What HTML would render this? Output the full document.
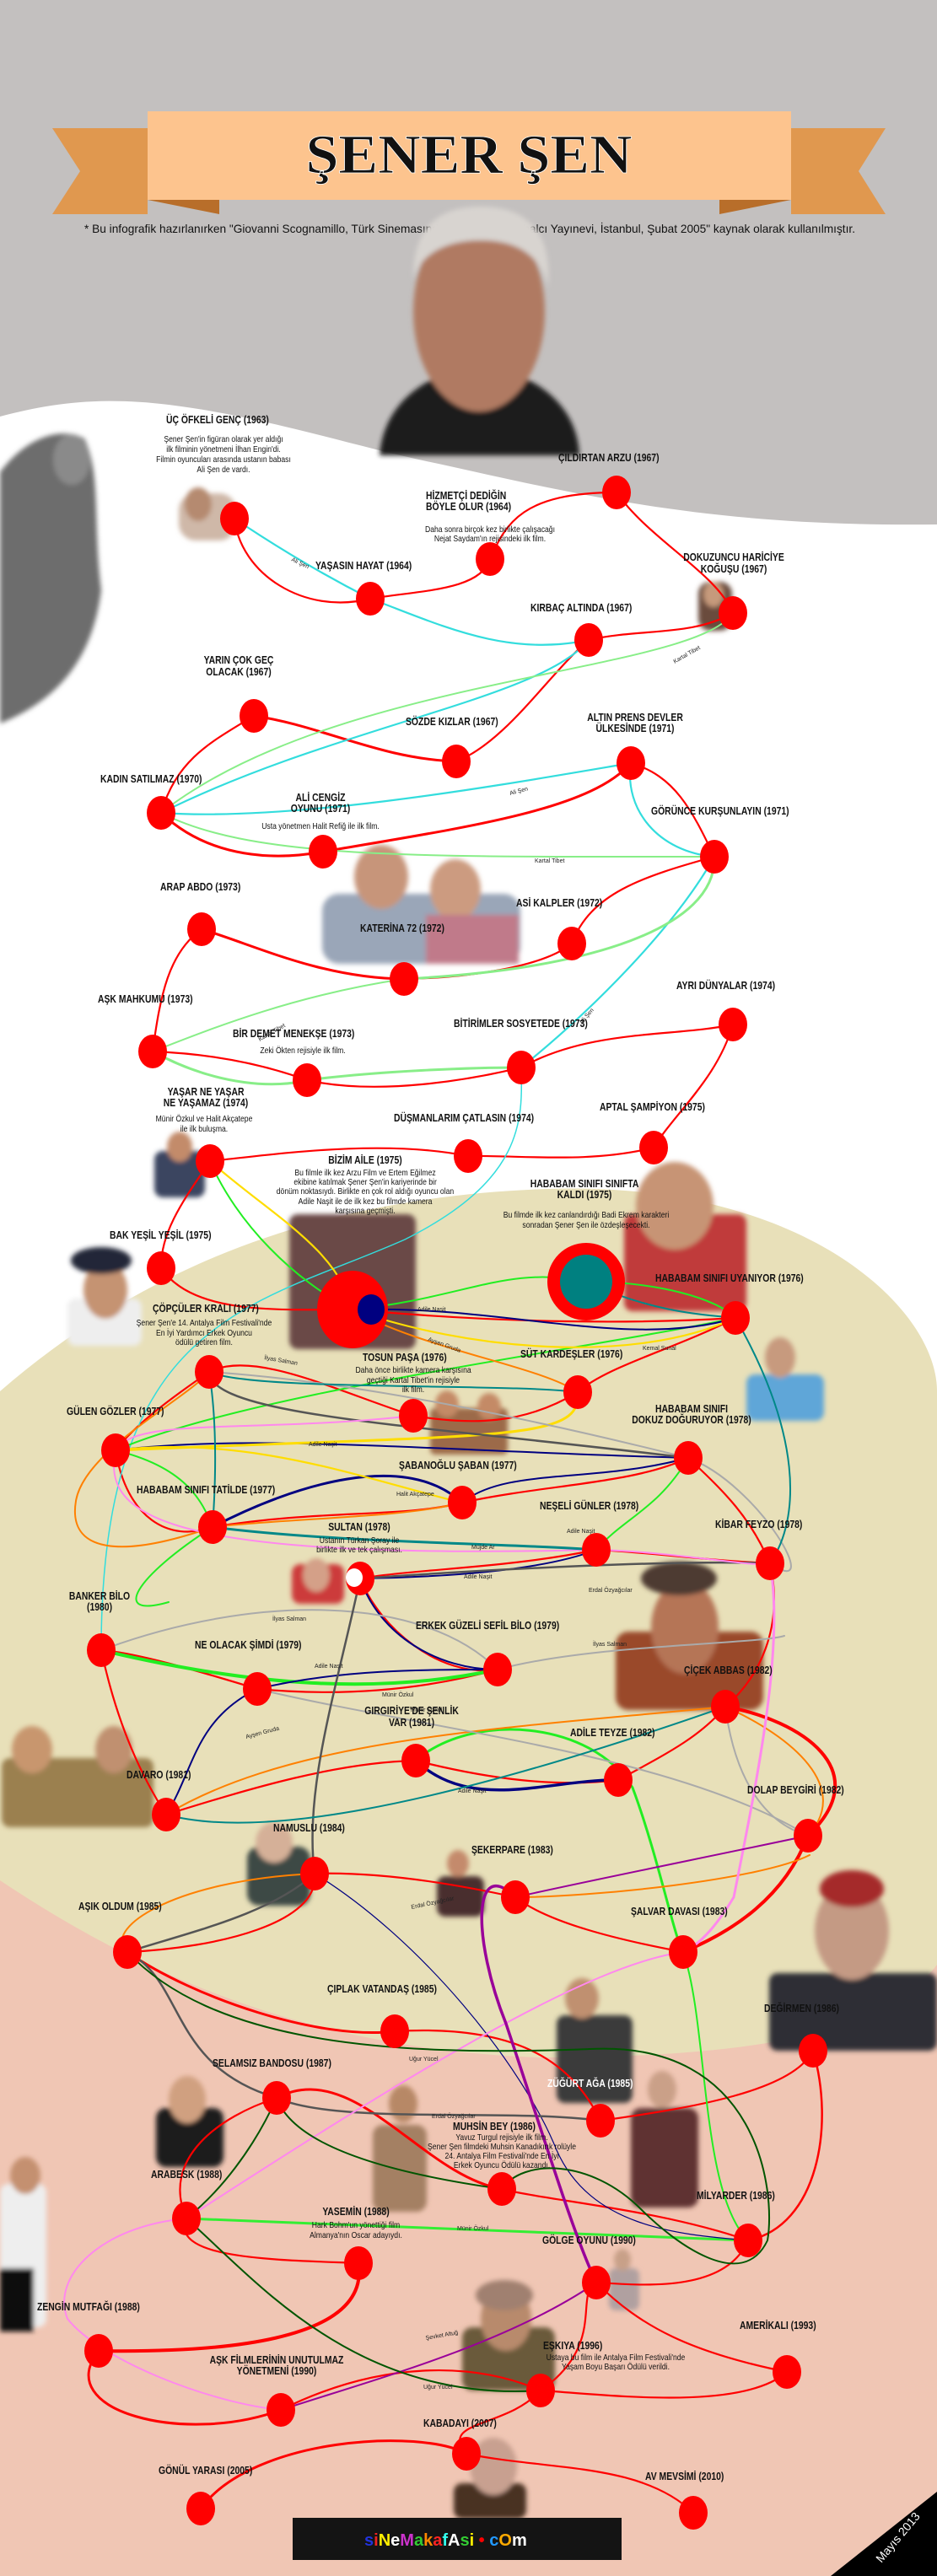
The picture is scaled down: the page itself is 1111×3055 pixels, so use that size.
<!DOCTYPE html>
<html><head><meta charset="utf-8">
<style>
html,body{margin:0;padding:0;}
body{width:1111px;height:3055px;overflow:hidden;background:#fff;}
svg{display:block;}
.l text{font-family:"Liberation Sans",sans-serif;font-weight:bold;font-size:13px;fill:#111;transform-box:fill-box;transform-origin:0% 50%;transform:scaleX(0.8);}
.l text[text-anchor="middle"]{transform-origin:50% 50%;}
.d text{font-family:"Liberation Sans",sans-serif;font-size:10.5px;fill:#111;transform-box:fill-box;transform-origin:50% 50%;transform:scaleX(0.82);}
.s text{font-family:"Liberation Sans",sans-serif;font-size:7px;fill:#222;}
.r{fill:none;stroke:#ff0000;stroke-width:2.2;}
.c{fill:none;stroke-linecap:round;}
</style></head><body>
<svg width="1111" height="3055" viewBox="0 0 1111 3055" xmlns="http://www.w3.org/2000/svg">
<defs>
<filter id="bl" x="-20%" y="-20%" width="140%" height="140%"><feGaussianBlur stdDeviation="3"/></filter>
</defs>
<rect x="0" y="0" width="1111" height="3055" fill="#ffffff"/>
<path d="M0,0 H1111 V622 C850,625 700,590 520,550 C420,530 320,495 200,480 C120,470 60,478 0,494 Z" fill="#c3c0bf"/>
<rect x="0" y="2090" width="1111" height="965" fill="#f0c6b4"/>
<path d="M0,1650 C150,1520 350,1420 650,1410 C950,1400 1111,1550 1111,1650 L1111,2330 C1050,2410 900,2440 640,2440 C350,2430 150,2330 0,2230 Z" fill="#e8e0b9"/>

<polygon points="62,152 175,152 175,254 62,254 95,203" fill="#e0984f"/>
<polygon points="1050,152 938,152 938,254 1050,254 1018,203" fill="#e0984f"/>
<polygon points="175,237 260,237 260,254" fill="#b86e2a"/>
<polygon points="938,237 853,237 853,254" fill="#b86e2a"/>
<rect x="175" y="132" width="763" height="105" fill="#fdc48e"/>
<text x="556" y="205" text-anchor="middle" textLength="387" lengthAdjust="spacingAndGlyphs" style="font-family:'Liberation Serif',serif;font-weight:bold;font-size:66px;fill:#111;stroke:#fff;stroke-width:0.8">ŞENER ŞEN</text>
<text x="100" y="276" textLength="914" lengthAdjust="spacingAndGlyphs" style="font-family:'Liberation Sans',sans-serif;font-size:14px;fill:#111">* Bu infografik hazırlanırken "Giovanni Scognamillo, Türk Sinemasında Şener Şen, Kabalcı Yayınevi, İstanbul, Şubat 2005" kaynak olarak kullanılmıştır.</text>

<g filter="url(#bl)">
<path d="M450,540 C455,480 500,450 540,440 L600,440 C650,455 685,490 687,540 Z" fill="#1c1a1a"/>
<ellipse cx="568" cy="370" rx="78" ry="118" fill="#b07a62"/>
<path d="M490,330 C490,260 530,245 570,245 C620,245 655,270 650,340 C640,300 610,285 570,285 C530,285 500,300 490,330Z" fill="#d8d4d0"/>
</g>

<g filter="url(#bl)">
<path d="M0,560 C30,520 70,505 100,520 C120,560 110,620 120,700 C110,780 70,830 0,858 Z" fill="#6d6d6d"/>
<ellipse cx="85" cy="545" rx="22" ry="30" fill="#8a8a8a"/>
<rect x="212" y="585" width="68" height="56" rx="20" fill="#cfb8a8"/>
<ellipse cx="235" cy="598" rx="16" ry="20" fill="#b58a70"/>
<rect x="828" y="690" width="40" height="58" rx="14" fill="#6a4b3c"/>
<ellipse cx="846" cy="705" rx="12" ry="15" fill="#c69a7c"/>
<rect x="382" y="1060" width="235" height="83" rx="20" fill="#9aa6b8"/>
<ellipse cx="452" cy="1040" rx="32" ry="38" fill="#c7957a"/>
<ellipse cx="540" cy="1055" rx="30" ry="36" fill="#cc9b80"/>
<rect x="505" y="1085" width="110" height="58" fill="#c07a8a"/>
<rect x="183" y="1365" width="60" height="55" rx="10" fill="#3a4560"/>
<ellipse cx="213" cy="1360" rx="15" ry="18" fill="#c38b6a"/>
<rect x="80" y="1540" width="88" height="56" rx="10" fill="#eeeeee"/>
<ellipse cx="125" cy="1530" rx="26" ry="34" fill="#c59372"/>
<ellipse cx="120" cy="1495" rx="36" ry="16" fill="#202538"/>
<rect x="343" y="1440" width="150" height="160" rx="10" fill="#6b4a46"/>
<rect x="740" y="1440" width="145" height="115" rx="10" fill="#c03a3a"/>
<ellipse cx="800" cy="1430" rx="46" ry="52" fill="#c79474"/>
<rect x="885" y="1630" width="92" height="55" rx="10" fill="#5fa6d8"/>
<ellipse cx="925" cy="1610" rx="18" ry="24" fill="#c79a7e"/>
<rect x="510" y="1670" width="92" height="55" rx="6" fill="#9c6a4a"/>
<ellipse cx="530" cy="1665" rx="14" ry="16" fill="#c48a66"/>
<ellipse cx="580" cy="1668" rx="14" ry="16" fill="#c48a66"/>
<rect x="346" y="1855" width="62" height="47" rx="10" fill="#cc3b3b"/>
<ellipse cx="375" cy="1868" rx="16" ry="20" fill="#d4a088"/>
<rect x="730" y="1935" width="175" height="93" rx="15" fill="#9a4a2a"/>
<ellipse cx="812" cy="1930" rx="40" ry="55" fill="#b57456"/>
<ellipse cx="805" cy="1872" rx="45" ry="20" fill="#4d3a30"/>
<rect x="2" y="2085" width="180" height="82" rx="10" fill="#9b8050"/>
<ellipse cx="38" cy="2075" rx="24" ry="28" fill="#c8966e"/>
<ellipse cx="135" cy="2075" rx="22" ry="28" fill="#c09070"/>
<rect x="293" y="2190" width="75" height="70" rx="14" fill="#3c4a44"/>
<ellipse cx="325" cy="2185" rx="22" ry="24" fill="#d5b098"/>
<rect x="518" y="2225" width="56" height="48" rx="10" fill="#4a2f2f"/>
<ellipse cx="543" cy="2210" rx="13" ry="16" fill="#c48a6c"/>
<rect x="912" y="2340" width="199" height="92" rx="10" fill="#2e2e36"/>
<ellipse cx="1010" cy="2290" rx="44" ry="58" fill="#c49a84"/>
<ellipse cx="1010" cy="2240" rx="38" ry="22" fill="#a52a2a"/>
<rect x="660" y="2390" width="90" height="104" rx="10" fill="#3a3a3a"/>
<ellipse cx="690" cy="2370" rx="20" ry="24" fill="#c09070"/>
<rect x="185" y="2500" width="80" height="70" rx="12" fill="#1a1a1a"/>
<ellipse cx="222" cy="2490" rx="22" ry="28" fill="#d0a080"/>
<rect x="442" y="2520" width="64" height="103" rx="12" fill="#a48064"/>
<ellipse cx="478" cy="2495" rx="17" ry="22" fill="#b78866"/>
<rect x="748" y="2500" width="80" height="118" rx="12" fill="#5e3030"/>
<ellipse cx="785" cy="2478" rx="17" ry="22" fill="#caa088"/>
<rect x="0" y="2590" width="55" height="170" rx="10" fill="#eeeeee"/>
<rect x="0" y="2690" width="40" height="75" fill="#111"/>
<ellipse cx="30" cy="2580" rx="18" ry="22" fill="#c49070"/>
<rect x="722" y="2690" width="36" height="50" rx="8" fill="#b0a0a0"/>
<ellipse cx="738" cy="2680" rx="10" ry="13" fill="#c8a088"/>
<rect x="548" y="2760" width="110" height="75" rx="12" fill="#6b5a3a"/>
<ellipse cx="600" cy="2750" rx="30" ry="38" fill="#b88a6c"/>
<ellipse cx="598" cy="2722" rx="34" ry="18" fill="#a08070"/>
<rect x="538" y="2945" width="86" height="42" rx="10" fill="#4a3020"/>
<ellipse cx="585" cy="2925" rx="28" ry="34" fill="#c8a090"/>
</g>

<g class="r">
<path d="M278,615 C285,680 360,730 439,710"/>
<path d="M439,710 C500,700 570,700 581,663"/>
<path d="M581,663 C600,620 620,584 731,584"/>
<path d="M731,584 C770,640 850,680 869,727"/>
<path d="M869,727 C820,755 760,745 698,759"/>
<path d="M698,759 C650,800 600,880 541,903"/>
<path d="M541,903 C450,900 380,860 301,849" stroke-width="3"/>
<path d="M301,849 C250,880 210,900 191,964"/>
<path d="M191,964 C250,1020 330,1020 383,1010" stroke-width="3"/>
<path d="M383,1010 C560,980 700,960 748,905" stroke-width="3"/>
<path d="M748,905 C800,920 820,960 847,1016"/>
<path d="M847,1016 C760,1040 700,1060 678,1119"/>
<path d="M678,1119 C640,1150 540,1160 479,1161"/>
<path d="M479,1161 C380,1160 300,1120 239,1102" stroke-width="3"/>
<path d="M239,1102 C200,1130 190,1180 181,1247"/>
<path d="M181,1247 C260,1250 320,1265 364,1281"/>
<path d="M364,1281 C450,1300 560,1280 618,1266"/>
<path d="M618,1266 C700,1220 800,1230 869,1215"/>
<path d="M869,1215 C850,1280 800,1320 775,1361"/>
<path d="M775,1361 C700,1380 620,1370 555,1371"/>
<path d="M555,1371 C450,1350 320,1370 249,1377"/>
<path d="M249,1377 C220,1420 190,1460 191,1504"/>
<path d="M191,1504 C230,1560 330,1553 418,1553"/>
<path d="M418,1553 C600,1570 760,1570 872,1563"/>
<path d="M872,1563 C800,1600 720,1620 685,1651"/>
<path d="M685,1651 C620,1690 560,1690 490,1679"/>
<path d="M490,1679 C400,1650 300,1600 248,1627"/>
<path d="M248,1627 C200,1660 160,1690 137,1720"/>
<path d="M137,1720 C150,1800 200,1830 252,1811"/>
<path d="M252,1811 C380,1790 480,1800 548,1782"/>
<path d="M548,1782 C650,1760 750,1760 816,1729"/>
<path d="M816,1729 C860,1770 890,1800 913,1854"/>
<path d="M913,1854 C830,1850 760,1840 707,1838"/>
<path d="M707,1838 C600,1860 500,1860 427,1872"/>
<path d="M427,1872 C450,1930 520,1990 590,1980"/>
<path d="M590,1980 C480,2010 380,2010 305,2003"/>
<path d="M305,2003 C230,1980 160,1960 120,1957"/>
<path d="M120,1957 C140,2050 170,2110 197,2152"/>
<path d="M197,2152 C300,2120 400,2090 493,2088"/>
<path d="M493,2088 C580,2110 660,2120 733,2111"/>
<path d="M733,2111 C790,2080 830,2060 860,2024"/>
<path d="M860,2024 C950,2040 1040,2100 958,2177" stroke-width="4"/>
<path d="M913,1854 C930,1930 900,1990 860,2024"/>
<path d="M958,2177 C930,2250 870,2290 810,2315" stroke-width="4"/>
<path d="M810,2315 C730,2300 650,2280 611,2250"/>
<path d="M611,2250 C520,2230 440,2220 373,2222"/>
<path d="M373,2222 C380,2280 260,2310 151,2315"/>
<path d="M151,2315 C230,2370 380,2420 468,2409" stroke-width="3"/>
<path d="M468,2409 C620,2400 680,2450 712,2515"/>
<path d="M712,2515 C820,2500 940,2480 964,2432"/>
<path d="M964,2432 C990,2520 970,2640 887,2657" stroke-width="2.5"/>
<path d="M887,2657 C780,2620 650,2610 595,2596"/>
<path d="M595,2596 C500,2580 420,2440 328,2488" stroke-width="3"/>
<path d="M328,2488 C260,2510 190,2560 221,2631"/>
<path d="M221,2631 C200,2680 330,2680 425,2684"/>
<path d="M425,2684 C440,2780 250,2790 117,2788" stroke-width="4"/>
<path d="M117,2788 C60,2860 220,2900 333,2858" stroke-width="3"/>
<path d="M333,2858 C450,2800 560,2800 641,2835"/>
<path d="M641,2835 C720,2780 680,2720 707,2707"/>
<path d="M707,2707 C760,2760 820,2790 933,2813"/>
<path d="M933,2813 C880,2860 720,2840 641,2835"/>
<path d="M641,2835 C600,2880 520,2870 553,2910"/>
<path d="M553,2910 C500,2880 300,2890 238,2975" stroke-width="3"/>
<path d="M553,2910 C650,2930 760,2920 822,2980"/>
<path d="M887,2657 C860,2720 760,2710 707,2707"/>
</g>

<g class="c" stroke="#33dddd" stroke-width="2.2">
<path d="M278,615 C330,650 380,680 439,710 C520,740 600,780 698,759"/>
<path d="M698,759 C640,830 400,860 191,964"/>
<path d="M191,964 C350,975 600,930 748,905"/>
<path d="M748,905 C740,960 780,1010 847,1016"/>
<path d="M847,1016 C800,1100 700,1200 618,1266"/>
<path d="M618,1266 C620,1330 620,1400 480,1470 C300,1550 120,1560 120,1957" stroke-width="1.5"/>
</g>
<g class="c" stroke="#88ee88" stroke-width="2">
<path d="M869,727 C820,800 400,800 191,964"/>
<path d="M191,964 C300,1020 500,1016 847,1016"/>
<path d="M847,1016 C850,1100 700,1150 479,1161" stroke-width="3"/>
<path d="M479,1161 C350,1180 250,1220 181,1247"/>
<path d="M181,1247 C260,1290 330,1290 364,1281 C450,1270 560,1266 618,1266" stroke-width="3"/>
</g>
<g class="c" stroke="#22ee22" stroke-width="2">
<path d="M249,1377 C280,1450 350,1520 418,1553"/>
<path d="M418,1553 C550,1540 600,1500 695,1520"/>
<path d="M695,1520 C780,1520 850,1540 872,1563"/>
<path d="M872,1563 C700,1600 300,1650 137,1720"/>
<path d="M137,1720 C220,1740 240,1780 252,1811"/>
<path d="M816,1729 C780,1790 740,1800 707,1838"/>
<path d="M120,1957 C300,2000 450,2010 590,1980" stroke-width="4"/>
<path d="M252,1811 C160,1870 130,1920 200,1900"/>
<path d="M493,2088 C560,2030 700,2040 750,2120 C780,2200 800,2300 810,2315" stroke-width="3"/>
<path d="M221,2631 C450,2640 700,2650 887,2657" stroke="#33ee33" stroke-width="3"/>
<path d="M810,2315 C840,2400 830,2600 887,2657"/>
</g>
<g class="c" stroke="#000080" stroke-width="2">
<path d="M439,1553 C600,1550 750,1600 872,1563"/>
<path d="M137,1720 C300,1700 500,1720 816,1729"/>
<path d="M548,1782 C600,1740 700,1760 816,1729"/>
<path d="M252,1811 C350,1760 480,1720 548,1782" stroke-width="3"/>
<path d="M427,1872 C550,1870 650,1860 707,1838"/>
<path d="M305,2003 C400,1980 500,1980 590,1980"/>
<path d="M427,1872 C450,1940 520,1980 590,1980"/>
<path d="M305,2003 C230,2040 230,2100 197,2152"/>
<path d="M493,2088 C560,2150 650,2110 733,2111" stroke-width="3.5"/>
<path d="M373,2222 C500,2300 620,2450 660,2550 C700,2640 800,2650 887,2657" stroke-width="1.2"/>
</g>
<g class="c" stroke="#ff8000" stroke-width="2">
<path d="M418,1553 C500,1600 640,1620 685,1651"/>
<path d="M248,1627 C220,1660 100,1720 90,1780 C80,1840 140,1850 252,1811"/>
<path d="M252,1811 C350,1800 480,1800 548,1782"/>
<path d="M197,2152 C350,2060 600,2050 860,2024"/>
<path d="M860,2024 C940,2060 1010,2120 958,2177"/>
<path d="M151,2315 C120,2290 200,2230 373,2222"/>
<path d="M611,2250 C700,2250 900,2230 960,2200"/>
</g>
<g class="c" stroke="#ffdd00" stroke-width="2.2">
<path d="M249,1377 C320,1440 400,1480 418,1553"/>
<path d="M418,1553 C550,1600 750,1620 872,1563"/>
<path d="M137,1720 C300,1700 450,1760 548,1782"/>
<path d="M685,1651 C690,1710 600,1700 137,1720" stroke-width="3"/>
</g>
<g class="c" stroke="#aaaaaa" stroke-width="2">
<path d="M248,1627 C450,1640 700,1700 816,1729 C900,1760 980,1900 913,1854"/>
<path d="M120,1957 C300,1890 500,1890 590,1980"/>
<path d="M305,2003 C500,2050 800,2080 958,2177"/>
<path d="M590,1980 C700,1950 900,1950 930,1940"/>
<path d="M860,2024 C870,2100 900,2160 958,2177"/>
</g>
<g class="c" stroke="#555555" stroke-width="2.5">
<path d="M248,1627 C250,1680 500,1690 816,1729"/>
<path d="M427,1872 C600,1860 800,1850 913,1854"/>
<path d="M427,1872 C400,2000 360,2120 373,2222"/>
<path d="M151,2315 C230,2290 320,2270 373,2222"/>
<path d="M151,2315 C220,2350 200,2450 328,2488 C400,2520 600,2500 712,2515"/>
</g>
<g class="c" stroke="#ff88ee" stroke-width="2">
<path d="M137,1720 C160,1680 300,1700 490,1679"/>
<path d="M137,1720 C120,1800 200,1850 707,1838 C800,1840 900,1860 913,1854"/>
<path d="M913,1854 C930,1950 900,2100 870,2250 C840,2300 820,2310 810,2315" stroke-width="3"/>
<path d="M810,2315 C700,2330 500,2450 221,2631"/>
<path d="M221,2631 C120,2640 60,2700 80,2750 C120,2800 250,2850 333,2858"/>
</g>
<g class="c" stroke="#008888" stroke-width="2">
<path d="M695,1520 C780,1560 850,1560 872,1563"/>
<path d="M248,1627 C300,1650 600,1640 685,1651"/>
<path d="M252,1811 C260,1700 250,1640 248,1627"/>
<path d="M252,1811 C400,1830 600,1830 707,1838" stroke-width="3"/>
<path d="M197,2152 C300,2180 500,2150 860,2024"/>
<path d="M913,1854 C950,1800 950,1700 872,1563"/>
</g>
<g class="c" stroke="#990099" stroke-width="2">
<path d="M611,2250 C560,2200 560,2300 600,2400 C650,2550 680,2650 707,2707" stroke-width="3.5"/>
<path d="M707,2707 C600,2780 450,2820 333,2858"/>
<path d="M611,2250 C700,2230 850,2200 958,2177"/>
</g>
<g class="c" stroke="#005500" stroke-width="2">
<path d="M151,2315 C250,2420 450,2440 700,2430 C900,2420 920,2600 910,2657 C880,2720 800,2660 760,2620 C700,2560 620,2560 595,2596"/>
<path d="M328,2488 C350,2550 480,2580 595,2596"/>
<path d="M328,2488 C300,2550 260,2600 221,2631"/>
<path d="M221,2631 C300,2700 420,2850 641,2835"/>
</g>

<g class="s">
<text x="345" y="665" transform="rotate(25 345 665)">Ali Şen</text>
<text x="800" y="787" transform="rotate(-30 800 787)">Kartal Tibet</text>
<text x="605" y="943" transform="rotate(-15 605 943)">Ali Şen</text>
<text x="634" y="1023">Kartal Tibet</text>
<text x="308" y="1235" transform="rotate(-30 308 1235)">Kartal Tibet</text>
<text x="690" y="1215" transform="rotate(-50 690 1215)">Ali Şen</text>
<text x="495" y="1555">Adile Naşit</text>
<text x="762" y="1601">Kemal Sunal</text>
<text x="507" y="1590" transform="rotate(20 507 1590)">Ayşen Gruda</text>
<text x="313" y="1612" transform="rotate(10 313 1612)">İlyas Salman</text>
<text x="366" y="1715">Adile Naşit</text>
<text x="470" y="1774">Halit Akçatepe</text>
<text x="672" y="1818">Adile Naşit</text>
<text x="559" y="1837">Müjde Ar</text>
<text x="550" y="1872">Adile Naşit</text>
<text x="698" y="1888">Erdal Özyağcılar</text>
<text x="323" y="1922">İlyas Salman</text>
<text x="373" y="1978">Adile Naşit</text>
<text x="453" y="2012">Münir Özkul</text>
<text x="703" y="1952">İlyas Salman</text>
<text x="292" y="2062" transform="rotate(-15 292 2062)">Ayşen Gruda</text>
<text x="543" y="2126">Adile Naşit</text>
<text x="487" y="2030">Münir Özkul</text>
<text x="488" y="2264" transform="rotate(-12 488 2264)">Erdal Özyağcılar</text>
<text x="485" y="2444">Uğur Yücel</text>
<text x="512" y="2512">Erdal Özyağcılar</text>
<text x="542" y="2645">Münir Özkul</text>
<text x="502" y="2833">Uğur Yücel</text>
<text x="505" y="2775" transform="rotate(-10 505 2775)">Şevket Altuğ</text>
</g>

<g fill="#ff0000">
<ellipse cx="278" cy="615" rx="17" ry="20"/><ellipse cx="439" cy="710" rx="17" ry="20"/>
<ellipse cx="581" cy="663" rx="17" ry="20"/><ellipse cx="731" cy="584" rx="17" ry="20"/>
<ellipse cx="869" cy="727" rx="17" ry="20"/><ellipse cx="698" cy="759" rx="17" ry="20"/>
<ellipse cx="301" cy="849" rx="17" ry="20"/><ellipse cx="541" cy="903" rx="17" ry="20"/>
<ellipse cx="191" cy="964" rx="17" ry="20"/><ellipse cx="748" cy="905" rx="17" ry="20"/>
<ellipse cx="383" cy="1010" rx="17" ry="20"/><ellipse cx="847" cy="1016" rx="17" ry="20"/>
<ellipse cx="239" cy="1102" rx="17" ry="20"/><ellipse cx="678" cy="1119" rx="17" ry="20"/>
<ellipse cx="479" cy="1161" rx="17" ry="20"/><ellipse cx="181" cy="1247" rx="17" ry="20"/>
<ellipse cx="364" cy="1281" rx="17" ry="20"/><ellipse cx="618" cy="1266" rx="17" ry="20"/>
<ellipse cx="869" cy="1215" rx="17" ry="20"/><ellipse cx="249" cy="1377" rx="17" ry="20"/>
<ellipse cx="555" cy="1371" rx="17" ry="20"/><ellipse cx="775" cy="1361" rx="17" ry="20"/>
<ellipse cx="191" cy="1504" rx="17" ry="20"/>
<ellipse cx="418" cy="1553" rx="42" ry="46"/>
<ellipse cx="695" cy="1520" rx="46" ry="46"/>
<ellipse cx="872" cy="1563" rx="17" ry="20"/>
<ellipse cx="490" cy="1679" rx="17" ry="20"/><ellipse cx="685" cy="1651" rx="17" ry="20"/>
<ellipse cx="248" cy="1627" rx="17" ry="20"/><ellipse cx="137" cy="1720" rx="17" ry="20"/>
<ellipse cx="816" cy="1729" rx="17" ry="20"/><ellipse cx="548" cy="1782" rx="17" ry="20"/>
<ellipse cx="252" cy="1811" rx="17" ry="20"/><ellipse cx="707" cy="1838" rx="17" ry="20"/>
<ellipse cx="913" cy="1854" rx="17" ry="20"/><ellipse cx="427" cy="1872" rx="17" ry="20"/>
<ellipse cx="120" cy="1957" rx="17" ry="20"/><ellipse cx="305" cy="2003" rx="17" ry="20"/>
<ellipse cx="590" cy="1980" rx="17" ry="20"/><ellipse cx="860" cy="2024" rx="17" ry="20"/>
<ellipse cx="493" cy="2088" rx="17" ry="20"/><ellipse cx="733" cy="2111" rx="17" ry="20"/>
<ellipse cx="197" cy="2152" rx="17" ry="20"/><ellipse cx="958" cy="2177" rx="17" ry="20"/>
<ellipse cx="373" cy="2222" rx="17" ry="20"/><ellipse cx="611" cy="2250" rx="17" ry="20"/>
<ellipse cx="151" cy="2315" rx="17" ry="20"/><ellipse cx="810" cy="2315" rx="17" ry="20"/>
<ellipse cx="468" cy="2409" rx="17" ry="20"/><ellipse cx="964" cy="2432" rx="17" ry="20"/>
<ellipse cx="328" cy="2488" rx="17" ry="20"/><ellipse cx="712" cy="2515" rx="17" ry="20"/>
<ellipse cx="595" cy="2596" rx="17" ry="20"/><ellipse cx="221" cy="2631" rx="17" ry="20"/>
<ellipse cx="887" cy="2657" rx="17" ry="20"/><ellipse cx="425" cy="2684" rx="17" ry="20"/>
<ellipse cx="707" cy="2707" rx="17" ry="20"/><ellipse cx="117" cy="2788" rx="17" ry="20"/>
<ellipse cx="933" cy="2813" rx="17" ry="20"/><ellipse cx="333" cy="2858" rx="17" ry="20"/>
<ellipse cx="641" cy="2835" rx="17" ry="20"/><ellipse cx="553" cy="2910" rx="17" ry="20"/>
<ellipse cx="238" cy="2975" rx="17" ry="20"/><ellipse cx="822" cy="2980" rx="17" ry="20"/>
</g>
<ellipse cx="440" cy="1553" rx="16" ry="18" fill="#000080"/>
<ellipse cx="695" cy="1520" rx="31" ry="32" fill="#008080"/>
<ellipse cx="420" cy="1871" rx="10" ry="11" fill="#ffffff"/>

<g class="l">
<text x="197" y="502">ÜÇ ÖFKELİ GENÇ (1963)</text>
<text x="662" y="547">ÇILDIRTAN ARZU (1967)</text>
<text x="505" y="592">HİZMETÇİ DEDİĞİN</text><text x="505" y="605">BÖYLE OLUR (1964)</text>
<text x="374" y="675">YAŞASIN HAYAT (1964)</text>
<text x="870" y="665" text-anchor="middle">DOKUZUNCU HARİCİYE</text><text x="870" y="679" text-anchor="middle">KOĞUŞU (1967)</text>
<text x="629" y="725">KIRBAÇ ALTINDA (1967)</text>
<text x="283" y="787" text-anchor="middle">YARIN ÇOK GEÇ</text><text x="283" y="801" text-anchor="middle">OLACAK (1967)</text>
<text x="481" y="860">SÖZDE KIZLAR (1967)</text>
<text x="753" y="855" text-anchor="middle">ALTIN PRENS DEVLER</text><text x="753" y="868" text-anchor="middle">ÜLKESİNDE (1971)</text>
<text x="119" y="928">KADIN SATILMAZ (1970)</text>
<text x="380" y="950" text-anchor="middle">ALİ CENGİZ</text><text x="380" y="963" text-anchor="middle">OYUNU (1971)</text>
<text x="772" y="966">GÖRÜNCE KURŞUNLAYIN (1971)</text>
<text x="190" y="1056">ARAP ABDO (1973)</text>
<text x="612" y="1075">ASİ KALPLER (1972)</text>
<text x="427" y="1105">KATERİNA 72 (1972)</text>
<text x="116" y="1189">AŞK MAHKUMU (1973)</text>
<text x="802" y="1173">AYRI DÜNYALAR (1974)</text>
<text x="538" y="1218">BİTİRİMLER SOSYETEDE (1973)</text>
<text x="276" y="1230">BİR DEMET MENEKŞE (1973)</text>
<text x="244" y="1299" text-anchor="middle">YAŞAR NE YAŞAR</text><text x="244" y="1312" text-anchor="middle">NE YAŞAMAZ (1974)</text>
<text x="467" y="1330">DÜŞMANLARIM ÇATLASIN (1974)</text>
<text x="711" y="1317">APTAL ŞAMPİYON (1975)</text>
<text x="433" y="1380" text-anchor="middle">BİZİM AİLE (1975)</text>
<text x="693" y="1408" text-anchor="middle">HABABAM SINIFI SINIFTA</text><text x="693" y="1421" text-anchor="middle">KALDI (1975)</text>
<text x="130" y="1469">BAK YEŞİL YEŞİL (1975)</text>
<text x="777" y="1520">HABABAM SINIFI UYANIYOR (1976)</text>
<text x="181" y="1556">ÇÖPÇÜLER KRALI (1977)</text>
<text x="430" y="1614">TOSUN PAŞA (1976)</text>
<text x="617" y="1610">SÜT KARDEŞLER (1976)</text>
<text x="79" y="1678">GÜLEN GÖZLER (1977)</text>
<text x="820" y="1675" text-anchor="middle">HABABAM SINIFI</text><text x="820" y="1688" text-anchor="middle">DOKUZ DOĞURUYOR (1978)</text>
<text x="473" y="1742">ŞABANOĞLU ŞABAN (1977)</text>
<text x="162" y="1771">HABABAM SINIFI TATİLDE (1977)</text>
<text x="640" y="1790">NEŞELİ GÜNLER (1978)</text>
<text x="848" y="1812">KİBAR FEYZO (1978)</text>
<text x="426" y="1815" text-anchor="middle">SULTAN (1978)</text>
<text x="118" y="1897" text-anchor="middle">BANKER BİLO</text><text x="118" y="1910" text-anchor="middle">(1980)</text>
<text x="493" y="1932">ERKEK GÜZELİ SEFİL BİLO (1979)</text>
<text x="231" y="1955">NE OLACAK ŞİMDİ (1979)</text>
<text x="811" y="1985">ÇİÇEK ABBAS (1982)</text>
<text x="488" y="2033" text-anchor="middle">GIRGIRİYE'DE ŞENLİK</text><text x="488" y="2047" text-anchor="middle">VAR (1981)</text>
<text x="676" y="2059">ADİLE TEYZE (1982)</text>
<text x="150" y="2109">DAVARO (1981)</text>
<text x="886" y="2127">DOLAP BEYGİRİ (1982)</text>
<text x="324" y="2172">NAMUSLU (1984)</text>
<text x="559" y="2198">ŞEKERPARE (1983)</text>
<text x="93" y="2265">AŞIK OLDUM (1985)</text>
<text x="748" y="2271">ŞALVAR DAVASI (1983)</text>
<text x="388" y="2363">ÇIPLAK VATANDAŞ (1985)</text>
<text x="906" y="2386">DEĞİRMEN (1986)</text>
<text x="252" y="2451">SELAMSIZ BANDOSU (1987)</text>
<text x="649" y="2475" style="fill:#fff">ZÜĞÜRT AĞA (1985)</text>
<text x="537" y="2526">MUHSİN BEY (1986)</text>
<text x="179" y="2583">ARABESK (1988)</text>
<text x="826" y="2608">MİLYARDER (1986)</text>
<text x="422" y="2627" text-anchor="middle">YASEMİN (1988)</text>
<text x="643" y="2661">GÖLGE OYUNU (1990)</text>
<text x="44" y="2740">ZENGİN MUTFAĞI (1988)</text>
<text x="877" y="2762">AMERİKALI (1993)</text>
<text x="644" y="2786">EŞKIYA (1996)</text>
<text x="328" y="2803" text-anchor="middle">AŞK FİLMLERİNİN UNUTULMAZ</text><text x="328" y="2816" text-anchor="middle">YÖNETMENİ (1990)</text>
<text x="502" y="2878">KABADAYI (2007)</text>
<text x="188" y="2934">GÖNÜL YARASI (2005)</text>
<text x="765" y="2941">AV MEVSİMİ (2010)</text>
</g>

<g class="d" text-anchor="middle">
<text x="265" y="524">Şener Şen'in figüran olarak yer aldığı</text>
<text x="265" y="536">ilk filminin yönetmeni İlhan Engin'di.</text>
<text x="265" y="548">Filmin oyuncuları arasında ustanın babası</text>
<text x="265" y="560">Ali Şen de vardı.</text>
<text x="581" y="631">Daha sonra birçok kez birlikte çalışacağı</text>
<text x="581" y="642">Nejat Saydam'ın rejisindeki ilk film.</text>
<text x="380" y="983">Usta yönetmen Halit Refiğ ile ilk film.</text>
<text x="359" y="1249">Zeki Ökten rejisiyle ilk film.</text>
<text x="242" y="1330">Münir Özkul ve Halit Akçatepe</text>
<text x="242" y="1342">ile ilk buluşma.</text>
<text x="433" y="1394">Bu filmle ilk kez Arzu Film ve Ertem Eğilmez</text>
<text x="433" y="1405">ekibine katılmak Şener Şen'in kariyerinde bir</text>
<text x="433" y="1416">dönüm noktasıydı. Birlikte en çok rol aldığı oyuncu olan</text>
<text x="433" y="1428">Adile Naşit ile de ilk kez bu filmde kamera</text>
<text x="433" y="1439">karşısına geçmişti.</text>
<text x="695" y="1444">Bu filmde ilk kez canlandırdığı Badi Ekrem karakteri</text>
<text x="695" y="1456">sonradan Şener Şen ile özdeşleşecekti.</text>
<text x="242" y="1572">Şener Şen'e 14. Antalya Film Festivali'nde</text>
<text x="242" y="1584">En İyi Yardımcı Erkek Oyuncu</text>
<text x="242" y="1595">ödülü getiren film.</text>
<text x="490" y="1628">Daha önce birlikte kamera karşısına</text>
<text x="490" y="1640">geçtiği Kartal Tibet'in rejisiyle</text>
<text x="490" y="1651">ilk film.</text>
<text x="426" y="1830">Ustanın Türkan Şoray ile</text>
<text x="426" y="1841">birlikte ilk ve tek çalışması.</text>
<text x="595" y="2538">Yavuz Turgul rejisiyle ilk film.</text>
<text x="595" y="2549">Şener Şen filmdeki Muhsin Kanadıkırık rolüyle</text>
<text x="595" y="2560">24. Antalya Film Festivali'nde En İyi</text>
<text x="595" y="2571">Erkek Oyuncu Ödülü kazandı.</text>
<text x="422" y="2642">Hark Bohm'un yönettiği film</text>
<text x="422" y="2654">Almanya'nın Oscar adayıydı.</text>
<text x="730" y="2799">Ustaya bu film ile Antalya Film Festivali'nde</text>
<text x="730" y="2810">Yaşam Boyu Başarı Ödülü verildi.</text>
</g>

<rect x="347" y="2986" width="390" height="50" fill="#141414"/>
<text x="432" y="3019" style="font-family:'Liberation Sans',sans-serif;font-weight:bold;font-size:20px">
<tspan fill="#2233dd">s</tspan><tspan fill="#ee2222">i</tspan><tspan fill="#ffee00">N</tspan><tspan fill="#ffffff">e</tspan><tspan fill="#cc33cc">M</tspan><tspan fill="#33cc33">a</tspan><tspan fill="#ff8800">k</tspan><tspan fill="#ff2222">a</tspan><tspan fill="#33ffee">f</tspan><tspan fill="#ffffff">A</tspan><tspan fill="#33cc33">s</tspan><tspan fill="#ffee00">i</tspan><tspan fill="#ff0000"> • </tspan><tspan fill="#2299ff">c</tspan><tspan fill="#ffaa00">O</tspan><tspan fill="#ffffff">m</tspan></text>
<polygon points="985,3055 1111,3055 1111,2955" fill="#000"/>
<text x="1045" y="3040" transform="rotate(-50 1045 3040)" style="font-family:'Liberation Sans',sans-serif;font-size:14px;fill:#fff">Mayıs 2013</text>
</svg>
</body></html>
